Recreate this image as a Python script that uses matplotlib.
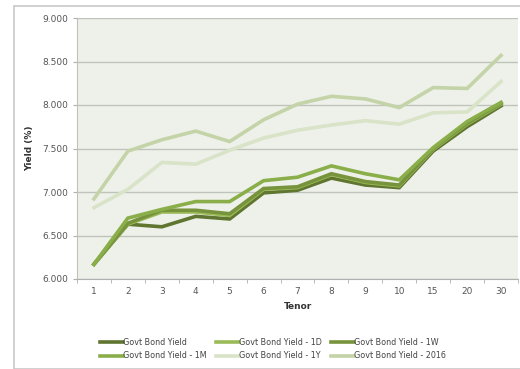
import matplotlib
matplotlib.use("Agg")
import matplotlib.pyplot as plt
from matplotlib.patches import Rectangle
import numpy as np

tenors = ["1", "2", "3", "4", "5", "6", "7", "8", "9", "10", "15", "20", "30"]
govt = [6.17, 6.63, 6.60, 6.72, 6.69, 6.99, 7.02, 7.16, 7.08, 7.05, 7.47, 7.75, 7.99]
govt_1d = [6.17, 6.63, 6.77, 6.77, 6.73, 7.03, 7.05, 7.20, 7.11, 7.07, 7.49, 7.78, 8.01]
govt_1w = [6.17, 6.64, 6.79, 6.79, 6.75, 7.04, 7.06, 7.21, 7.12, 7.08, 7.50, 7.79, 8.02]
govt_1m = [6.17, 6.70, 6.80, 6.89, 6.89, 7.13, 7.17, 7.30, 7.21, 7.14, 7.51, 7.81, 8.03]
govt_1y = [6.82, 7.03, 7.34, 7.32, 7.48, 7.62, 7.71, 7.77, 7.82, 7.78, 7.91, 7.92, 8.27]
govt_2016 = [6.92, 7.47, 7.60, 7.70, 7.58, 7.83, 8.01, 8.10, 8.07, 7.97, 8.20, 8.19, 8.57]

series = [
    ("Govt Bond Yield", govt, "#5f7530"),
    ("Govt Bond Yield - 1D", govt_1d, "#9bbb59"),
    ("Govt Bond Yield - 1W", govt_1w, "#77933c"),
    ("Govt Bond Yield - 1M", govt_1m, "#8aae4a"),
    ("Govt Bond Yield - 1Y", govt_1y, "#d9e3c8"),
    ("Govt Bond Yield - 2016", govt_2016, "#c4d3a8"),
]

fig = plt.figure(figsize=(5.2, 3.69), dpi=100)
fig.patches.append(Rectangle((14/520, 0), 1, 1 - 6/369, transform=fig.transFigure,
                             fill=False, edgecolor="#c8c8c8", linewidth=1.2))
ax = fig.add_axes([77/520, 1 - 279/369, 441/520, 261/369])
ax.set_facecolor("#eef1ea")

x = np.arange(len(tenors))
handles = []
for name, vals, col in series:
    h, = ax.plot(x, vals, color=col, linewidth=2.6, label=name, solid_joinstyle="miter")
    handles.append(h)

ax.set_xlim(-0.5, len(tenors) - 0.5)
ax.set_ylim(6.0, 9.0)
ax.set_yticks(np.arange(6.0, 9.01, 0.5))
ax.set_yticklabels([f"{v:.3f}" for v in np.arange(6.0, 9.01, 0.5)])
ax.set_xticks(x)
ax.set_xticklabels(tenors)
ax.set_xticks(np.arange(-0.5, len(tenors), 1), minor=True)
ax.tick_params(axis="x", which="major", length=0, labelsize=6.5, colors="#555555", pad=6)
ax.tick_params(axis="x", which="minor", length=3, color="#b0b0b0")
ax.tick_params(axis="y", length=3, color="#b0b0b0", labelsize=6.5, colors="#555555")
ax.yaxis.grid(True, color="#bfc4bb", linewidth=1.0)
ax.set_axisbelow(True)
for s in ["top", "right"]:
    ax.spines[s].set_visible(False)
ax.spines["left"].set_color("#c0c0c0")
ax.spines["bottom"].set_color("#b0b0b0")

ax.set_ylabel("Yield (%)", fontsize=6.5, fontweight="bold", color="#333333", labelpad=6)
ax.set_xlabel("Tenor", fontsize=6.5, fontweight="bold", color="#333333", labelpad=4)

order = [0, 3, 1, 4, 2, 5]
fig.legend([handles[i] for i in order], [series[i][0] for i in order],
           ncol=3, loc="center", bbox_to_anchor=(273/520, 1 - 349/369), frameon=False,
           fontsize=5.8, handlelength=2.8, handletextpad=0.0, columnspacing=1.2,
           labelspacing=0.6, labelcolor="#444444")

fig.savefig("out.png", dpi=100, facecolor="white")
